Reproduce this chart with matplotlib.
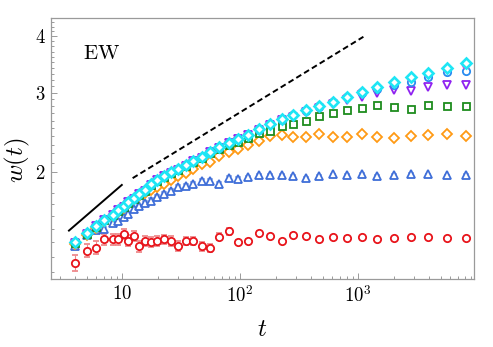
import matplotlib
matplotlib.use("Agg")
import matplotlib.pyplot as plt
import numpy as np
from matplotlib.ticker import FixedLocator, NullFormatter

plt.rcParams['mathtext.fontset'] = 'cm'
plt.rcParams['font.family'] = ['DejaVu Serif']

# sampling times
t = [4, 5, 6, 7, 8.4, 9.3, 10.3, 11.3, 12.6, 14, 15.7, 17.7, 19.9, 22.7, 25.9,
     29.6, 34.7, 40.2, 47.3, 55.7, 66.8, 80.7, 96.8, 117.6, 145.8, 179.6, 225,
     283, 362, 470, 611, 812, 1075, 1458, 2018, 2800, 3947, 5640, 8225]

# roughness w(t), one series per system size (smallest first)
w_red = [1.26, 1.34, 1.36, 1.42, 1.42, 1.42, 1.46, 1.41, 1.445, 1.37, 1.41, 1.40, 1.41,
         1.42, 1.41, 1.37, 1.41, 1.41, 1.37, 1.36, 1.44, 1.48, 1.40, 1.41, 1.47, 1.445,
         1.41, 1.455, 1.445, 1.42, 1.44, 1.433, 1.437, 1.425, 1.427, 1.437, 1.435, 1.427, 1.431]
err_red = [0.05, 0.045, 0.045, 0.04, 0.04, 0.04, 0.04, 0.04, 0.04, 0.04, 0.035, 0.035, 0.035,
           0.035, 0.035, 0.035, 0.03, 0.03, 0.03, 0.03, 0.025, 0.025, 0.012, 0.01, 0.008, 0.008,
           0.008, 0.008, 0.008, 0.008, 0.008, 0.008, 0.008, 0.008, 0.008, 0.008, 0.008, 0.008, 0.008]

w_blue_tri = [1.37, 1.45, 1.49, 1.50, 1.54, 1.56, 1.59, 1.62, 1.66, 1.68, 1.71, 1.73, 1.76,
              1.79, 1.82, 1.85, 1.86, 1.88, 1.91, 1.91, 1.88, 1.94, 1.93, 1.95, 1.97, 1.97,
              1.975, 1.96, 1.94, 1.96, 1.977, 1.97, 1.98, 1.96, 1.97, 1.98, 1.977, 1.967, 1.973]
err_blue_tri = [0.015, 0.015, 0.015, 0.015, 0.015, 0.015, 0.015, 0.015, 0.015, 0.015, 0.02, 0.02,
                0.02, 0.02, 0.02, 0.022, 0.022, 0.022, 0.025, 0.025, 0.025, 0.02, 0.02, 0.015,
                0.01, 0.008, 0.008, 0.008, 0.008, 0.008, 0.008, 0.008, 0.008, 0.008, 0.008,
                0.008, 0.008, 0.008, 0.008]

w_orange = [1.39, 1.455, 1.505, 1.557, 1.60, 1.635, 1.67, 1.70, 1.74, 1.77, 1.80, 1.83, 1.85,
            1.88, 1.92, 1.96, 1.995, 2.03, 2.08, 2.11, 2.17, 2.22, 2.25, 2.30, 2.35, 2.40,
            2.416, 2.39, 2.39, 2.428, 2.396, 2.398, 2.428, 2.39, 2.387, 2.40, 2.416, 2.425, 2.41]

w_green = [1.395, 1.46, 1.515, 1.565, 1.605, 1.64, 1.675, 1.71, 1.745, 1.78, 1.815, 1.87, 1.915,
           1.955, 1.99, 2.02, 2.06, 2.11, 2.15, 2.21, 2.255, 2.296, 2.337, 2.385, 2.447, 2.472,
           2.529, 2.562, 2.598, 2.659, 2.71, 2.752, 2.769, 2.82, 2.792, 2.766, 2.82, 2.797, 2.797]

w_purple = [1.397, 1.462, 1.517, 1.567, 1.607, 1.645, 1.677, 1.714, 1.747, 1.785, 1.82, 1.875,
            1.92, 1.96, 1.995, 2.027, 2.067, 2.115, 2.155, 2.215, 2.265, 2.318, 2.365, 2.415,
            2.48, 2.548, 2.605, 2.655, 2.715, 2.774, 2.831, 2.889, 2.933, 2.989, 3.035, 3.03,
            3.082, 3.114, 3.123]

w_blue_circ = [1.398, 1.463, 1.518, 1.568, 1.608, 1.647, 1.678, 1.716, 1.748, 1.787, 1.822,
               1.877, 1.922, 1.962, 1.997, 2.03, 2.07, 2.117, 2.158, 2.216, 2.267, 2.32, 2.368,
               2.419, 2.485, 2.553, 2.614, 2.672, 2.733, 2.795, 2.86, 2.928, 3.0, 3.06, 3.114,
               3.175, 3.254, 3.341, 3.353]

w_magenta = [1.399, 1.464, 1.519, 1.569, 1.609, 1.648, 1.679, 1.718, 1.749, 1.788, 1.823, 1.878,
             1.923, 1.963, 1.998, 2.032, 2.071, 2.118, 2.16, 2.217, 2.268, 2.321, 2.369, 2.42,
             2.487, 2.555, 2.617, 2.676, 2.737, 2.798, 2.863, 2.932, 3.008, 3.08, 3.15, 3.235,
             3.305, 3.38, 3.455]

w_cyan = [1.40, 1.465, 1.52, 1.57, 1.61, 1.65, 1.68, 1.72, 1.75, 1.79, 1.825, 1.88, 1.925,
          1.965, 2.0, 2.034, 2.073, 2.12, 2.162, 2.218, 2.269, 2.323, 2.37, 2.422, 2.489, 2.556,
          2.618, 2.678, 2.74, 2.801, 2.867, 2.936, 3.014, 3.087, 3.162, 3.249, 3.321, 3.402, 3.484]

# guide lines (power laws) given by their end points
solid_t = [3.5, 10.1]
solid_w = [1.48, 1.88]
dashed_t = [12.3, 1110]
dashed_w = [1.94, 3.99]

fig = plt.figure(figsize=(4.93, 3.47), dpi=100)
ax = fig.add_axes([0.1034, 0.196, 0.858, 0.752])
ax.set_xscale('log')
ax.set_yscale('log')

ax.plot(solid_t, solid_w, color='black', lw=1.4, solid_capstyle='butt')
ax.plot(dashed_t, dashed_w, color='black', lw=1.4, dashes=(3.0, 1.7))

px = 0.72  # pixels -> points

ax.errorbar(t, w_red, yerr=err_red, fmt='o', ms=7.3 * px, mfc='white', mec='#E8141B',
            mew=1.3, ecolor='#EE8A8C', elinewidth=0.8, capsize=2.5, capthick=0.8, zorder=3)
ax.errorbar(t, w_blue_tri, yerr=err_blue_tri, fmt='^', ms=8.5 * px, mfc='white', mec='#3F6ED8',
            mew=1.3, ecolor='#9DB3E8', elinewidth=0.8, capsize=2.5, capthick=0.8, zorder=3)
ax.plot(t, w_orange, 'D', ms=6.6 * px, mfc='white', mec='#FF9A14', mew=1.3, zorder=4)
ax.plot(t, w_green, 's', ms=7 * px, mfc='white', mec='#1E8C1E', mew=1.3, zorder=5)
ax.plot(t, w_purple, 'v', ms=8.5 * px, mfc='white', mec='#8F22F0', mew=1.3, zorder=6)
ax.plot(t, w_blue_circ, 'o', ms=7.3 * px, mfc='white', mec='#2A8CF0', mew=1.3, zorder=7)
ax.plot(t, w_magenta, 'p', ms=7.8 * px, mfc='white', mec='#FF2FD0', mew=1.3, zorder=8)
ax.plot(t, w_cyan, 'D', ms=7 * px, mfc='white', mec='#1EE6F5', mew=1.9, zorder=9)

ax.set_xlim(2.5, 9600)
ax.set_ylim(1.16, 4.39)

ax.xaxis.set_major_locator(FixedLocator([10, 100, 1000]))
ax.set_xticklabels([r'$10$', r'$10^2$', r'$10^3$'])
ax.xaxis.set_minor_locator(FixedLocator([k * 10.0 ** e for e in range(0, 4) for k in range(2, 10)]))
ax.xaxis.set_minor_formatter(NullFormatter())

ax.yaxis.set_major_locator(FixedLocator([2, 3, 4]))
ax.set_yticklabels([r'$2$', r'$3$', r'$4$'])
ax.yaxis.set_minor_locator(FixedLocator([round(1.2 + 0.1 * k, 1) for k in range(32)]))
ax.yaxis.set_minor_formatter(NullFormatter())

for s in ax.spines.values():
    s.set_color('#9a9a9a')
    s.set_linewidth(0.9)
ax.tick_params(which='both', direction='in', color='#9a9a9a', top=False, right=False,
               labelsize=13.5, width=0.7)
ax.tick_params(which='major', length=4.5, pad=4)
ax.tick_params(which='minor', length=2.3)

ax.set_xlabel(r'$t$', fontsize=18)
ax.set_ylabel(r'$w(t)$', fontsize=18)
ax.xaxis.set_label_coords(0.5, -0.15)
ax.yaxis.set_label_coords(-0.045, 0.455)

ax.text(0.075, 0.865, r'$\mathrm{EW}$', transform=ax.transAxes, fontsize=15,
        ha='left', va='center')

fig.savefig('out.png', dpi=100)
